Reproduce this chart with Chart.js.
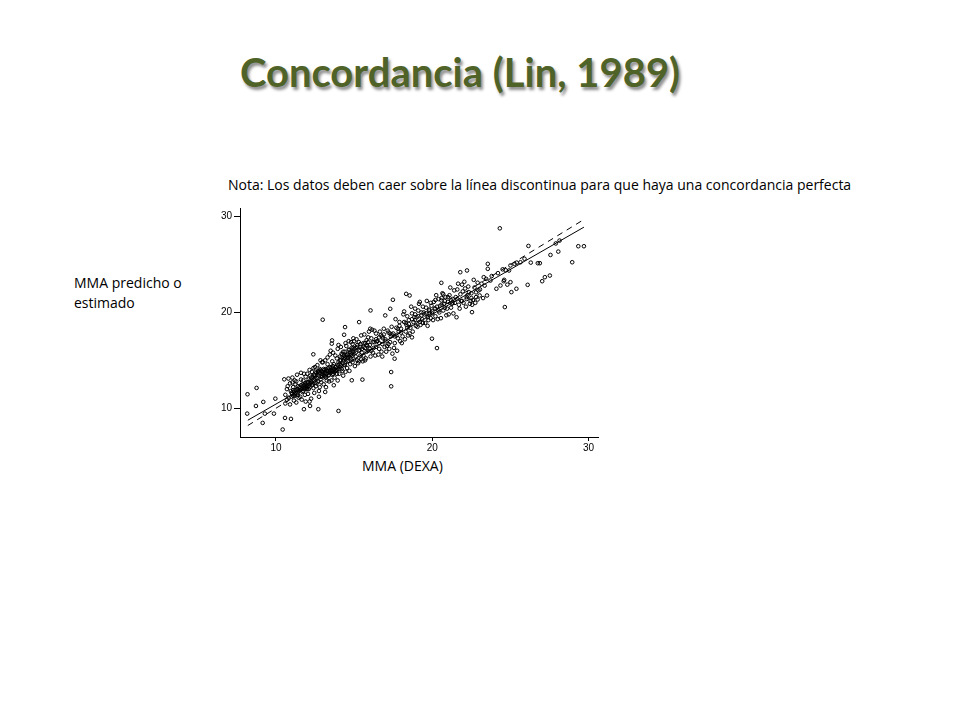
<!DOCTYPE html>
<html>
<head>
<meta charset="utf-8">
<script src="https://cdn.jsdelivr.net/npm/chart.js@4/dist/chart.umd.min.js"></script>
<style>
  body { margin: 0; width: 960px; height: 720px; background: #fff; position: relative; overflow: hidden; }
  .txt { position: absolute; font-family: "Open Sans", Lato, sans-serif; color: #000; white-space: nowrap; }
  #titulo { left: 0; width: 920px; top: 48px; text-align: center; font-family: Lato, sans-serif; font-size: 40px; font-weight: bold; color: #4f6228;
    text-shadow: 2px 3px 3px rgba(0,0,0,0.45); }
  #nota { left: 228px; top: 175px; font-size: 14px; }
  #ylab { left: 74px; top: 273px; font-size: 14px; line-height: 20px; }
  #xlab { left: 362px; top: 456px; font-size: 14px; }
  #wrap { position: absolute; left: 200px; top: 200px; width: 420px; height: 270px; }
</style>
</head>
<body>
<div class="txt" id="titulo">Concordancia (Lin, 1989)</div>
<div class="txt" id="nota">Nota: Los datos deben caer sobre la línea discontinua para que haya una concordancia perfecta</div>
<div class="txt" id="ylab">MMA predicho o<br>estimado</div>
<div class="txt" id="xlab">MMA (DEXA)</div>
<div id="wrap"><canvas id="concordChart"></canvas></div>
<script>
// MMA (DEXA) vs MMA predicho
const puntos = [
  [8.18,11.46],[8.76,12.12],[8.16,9.44],[8.72,10.24],[9.19,10.66],[9.15,8.47],[9.29,9.44],[9.87,9.44],
  [9.96,11.0],[10.43,7.78],[10.58,8.99],[10.96,8.89],[10.53,13.02],[11.79,9.9],[12.18,10.24],[12.71,9.9],
  [14.0,9.72],[12.99,19.24],[12.39,15.63],[14.42,18.47],[14.36,17.67],[13.59,17.08],[13.57,16.74],[14.85,12.92],
  [15.53,12.99],[15.32,18.99],[16.05,20.21],[16.03,18.3],[17.48,21.32],[17.31,20.38],[17.37,13.78],[17.37,12.29],
  [17.59,15.17],[16.99,19.69],[18.33,21.94],[18.55,21.77],[19.98,17.26],[20.3,16.28],[20.58,23.09],[20.58,21.25],
  [21.79,24.2],[22.22,24.38],[22.54,20.03],[23.55,25.07],[23.55,24.55],[24.32,28.78],[24.64,20.56],[24.57,23.26],
  [25.0,23.16],[25.38,22.47],[25.06,22.12],[26.1,22.88],[26.15,26.94],[26.75,25.14],[26.88,25.14],[27.03,23.26],
  [27.2,23.68],[27.52,23.85],[27.56,26.0],[28.06,26.35],[28.14,27.5],[28.95,25.24],[29.34,26.91],[29.7,26.91],
  [25.64,25.24],[25.26,25.07],[24.91,24.38],[24.36,22.81],[24.1,22.47],[23.5,21.77],[23.03,21.77],[22.9,21.35],
  [23.29,23.68],[23.72,23.33],
  [10.6,11.4],[10.7,12.0],[10.8,11.1],[10.9,12.6],[10.6,10.5],[10.8,13.1],[10.95,11.8],[10.7,10.9],[10.9,10.4],[10.75,12.3],
  [11.0,11.6],[11.1,12.2],[11.2,11.3],[11.3,12.8],[11.05,13.2],[11.4,11.9],[11.15,10.8],[11.25,12.5],[11.35,13.5],[11.45,11.1],
  [11.1,11.9],[11.3,10.6],[11.2,12.9],[11.4,12.3],[11.05,12.7],
  [11.55,12.1],[11.6,13.0],[11.7,11.7],[11.8,12.4],[11.9,13.3],[11.65,10.9],[11.75,12.9],[11.85,11.4],[11.95,12.0],[11.6,13.7],
  [11.7,12.5],[11.9,10.7],[11.55,11.2],[11.8,13.6],[11.95,12.7],
  [12.0,12.3],[12.1,13.0],[12.2,12.6],[12.3,13.8],[12.4,12.1],[12.05,11.5],[12.15,14.0],[12.25,11.0],[12.35,13.3],[12.45,12.9],
  [12.1,12.0],[12.2,13.4],[12.3,12.4],[12.4,14.2],[12.0,13.6],[12.45,11.6],[12.25,12.8],[12.15,10.7],
  [12.5,13.1],[12.6,13.7],[12.7,12.8],[12.8,14.1],[12.9,13.4],[12.55,12.3],[12.65,14.5],[12.75,11.8],[12.85,13.0],[12.95,14.8],
  [12.6,12.6],[12.7,13.9],[12.8,12.2],[12.9,12.7],[12.5,14.3],[12.75,11.2],[12.95,13.6],[12.85,15.0],
  [13.0,13.5],[13.1,14.0],[13.2,13.2],[13.3,14.6],[13.4,13.8],[13.05,12.5],[13.15,15.0],[13.25,12.9],[13.35,13.4],[13.45,14.3],
  [13.1,13.7],[13.2,12.2],[13.3,15.3],[13.4,12.8],[13.0,14.8],[13.25,13.9],[13.45,15.6],[13.15,11.7],
  [13.5,14.0],[13.6,13.5],[13.7,14.6],[13.8,13.9],[13.9,15.2],[13.55,12.9],[13.65,15.8],[13.75,13.2],[13.85,14.3],[13.95,16.2],
  [13.6,14.9],[13.7,12.4],[13.8,15.5],[13.9,13.6],[13.5,16.0],[13.75,14.1],[13.95,12.9],[13.65,14.4],
  [14.0,14.8],[14.1,15.4],[14.2,14.1],[14.3,15.9],[14.4,14.5],[14.05,13.6],[14.15,16.4],[14.25,13.9],[14.35,15.1],[14.45,16.8],
  [14.1,14.3],[14.2,15.7],[14.3,13.4],[14.4,15.3],[14.0,16.6],[14.25,14.7],[14.45,13.8],[14.15,15.0],
  [14.5,15.5],[14.6,14.9],[14.7,16.1],[14.8,15.2],[14.9,16.7],[14.55,14.2],[14.65,17.0],[14.75,14.6],[14.85,15.8],[14.95,16.3],
  [14.6,15.6],[14.7,13.9],[14.8,16.9],[14.9,14.8],[14.5,16.5],[14.75,15.3],[14.95,17.3],
  [15.0,15.7],[15.1,16.3],[15.2,15.0],[15.3,16.9],[15.4,15.5],[15.05,14.4],[15.15,17.2],[15.25,14.7],[15.35,16.1],[15.45,17.6],
  [15.1,15.4],[15.2,16.6],[15.3,14.9],[15.4,16.4],[15.0,17.0],[15.45,15.1],
  [15.5,16.2],[15.6,15.5],[15.7,16.8],[15.8,15.9],[15.9,17.4],[15.55,14.9],[15.65,17.7],[15.75,15.2],[15.85,16.5],[15.95,18.0],
  [15.6,16.4],[15.7,15.0],[15.8,17.1],[15.9,16.0],
  [16.0,16.6],[16.1,17.3],[16.2,15.8],[16.3,16.9],[16.4,17.8],[16.05,15.4],[16.15,18.2],[16.25,16.3],[16.35,15.5],[16.45,17.0],
  [16.1,16.0],[16.3,18.1],[16.4,16.4],
  [16.5,17.0],[16.6,16.2],[16.7,17.6],[16.8,16.7],[16.9,18.3],[16.55,15.6],[16.65,18.0],[16.75,15.9],[16.85,17.3],[16.95,16.4],
  [16.6,17.4],[16.8,15.4],[16.9,17.7],
  [17.0,17.2],[17.1,16.5],[17.2,17.9],[17.3,16.9],[17.4,18.5],[17.05,15.9],[17.15,18.1],[17.25,16.2],[17.35,17.5],[17.45,15.7],
  [17.2,16.7],[17.4,17.7],
  [17.5,17.8],[17.6,16.8],[17.7,18.4],[17.8,17.3],[17.9,19.0],[17.55,16.3],[17.65,19.3],[17.75,16.0],[17.85,18.0],[17.95,17.0],
  [17.7,17.6],[17.9,18.6],
  [18.0,18.3],[18.1,17.5],[18.2,19.0],[18.3,18.0],[18.4,19.6],[18.05,16.8],[18.15,19.8],[18.25,17.2],[18.35,18.7],[18.45,17.6],
  [18.2,20.1],[18.4,18.4],
  [18.5,19.2],[18.6,18.4],[18.7,19.9],[18.8,19.0],[18.9,20.4],[18.55,17.8],[18.65,20.6],[18.75,18.0],[18.85,19.5],[18.95,18.6],
  [18.7,17.4],[18.9,19.8],
  [19.0,19.5],[19.1,20.2],[19.2,19.0],[19.3,19.7],[19.4,20.6],[19.05,18.5],[19.15,20.9],[19.25,18.7],[19.35,19.3],[19.45,20.0],
  [19.2,21.1],[19.4,18.9],
  [19.5,19.8],[19.6,20.5],[19.7,19.5],[19.8,20.2],[19.9,21.0],[19.55,18.9],[19.65,21.2],[19.75,19.2],[19.85,19.9],[19.95,20.7],
  [19.7,18.6],[19.9,19.4],
  [20.0,20.1],[20.1,21.1],[20.2,19.6],[20.3,20.6],[20.4,21.4],[20.05,19.2],[20.15,20.4],[20.25,21.8],[20.35,19.3],[20.45,20.0],
  [20.2,21.3],
  [20.5,20.7],[20.6,21.5],[20.7,20.2],[20.8,21.2],[20.9,19.7],[20.55,19.4],[20.65,22.0],[20.75,20.9],[20.85,21.6],[20.95,20.4],
  [20.7,21.9],
  [21.0,21.1],[21.1,21.8],[21.2,20.5],[21.3,21.4],[21.4,22.3],[21.05,19.8],[21.15,22.6],[21.25,20.9],[21.35,19.9],[21.45,21.0],
  [21.2,21.3],
  [21.5,21.6],[21.6,22.4],[21.7,20.8],[21.8,21.9],[21.9,22.9],[21.55,19.5],[21.65,23.0],[21.75,20.4],[21.85,21.2],[21.95,22.2],
  [22.0,21.0],[22.1,22.5],[22.2,21.4],[22.3,22.7],[22.4,20.9],[22.05,23.2],[22.15,20.6],[22.25,21.8],[22.35,22.1],[22.45,21.2],
  [22.5,22.0],[22.6,21.3],[22.7,22.6],[22.8,21.6],[22.9,23.1],[22.55,20.8],[22.65,23.4],[22.75,21.0],[22.95,22.3],
  [23.05,22.4],[23.15,23.0],[23.25,21.5],[23.35,22.8],[23.45,23.5],
  [23.8,23.8],[24.2,24.1],[24.5,24.5],[24.7,24.4],[25.0,24.9],[25.4,25.2],[25.9,25.6],[26.3,25.2],[27.9,27.2],[24.8,22.9],[24.6,23.4],
  // dense core of the cloud
  [11.0,11.2],[11.05,11.5],[11.1,11.3],[11.15,11.7],[11.2,11.5],[11.25,11.9],[11.3,11.6],[11.35,12.0],[11.4,11.4],[11.45,11.8],
  [11.5,12.2],[11.55,11.9],[11.6,12.4],[11.65,12.0],[11.7,12.3],[11.75,11.8],[11.8,12.1],[11.85,12.6],[11.9,12.2],[11.95,12.5],
  [12.0,12.0],[12.05,12.7],[12.1,12.4],[12.15,12.2],[12.2,12.9],[12.25,13.2],[12.3,12.7],[12.35,12.5],[12.4,13.0],[12.45,13.5],
  [12.5,13.4],[12.55,13.8],[12.6,13.2],[12.65,13.5],[12.7,13.8],[12.75,13.4],[12.8,13.7],[12.85,14.0],[12.9,13.9],[12.95,13.3],
  [13.0,13.8],[13.05,14.1],[13.1,13.4],[13.15,13.7],[13.2,14.1],[13.25,13.6],[13.3,13.9],[13.35,14.2],[13.4,13.5],[13.45,13.9],
  [13.5,13.7],[13.55,14.2],[13.6,13.9],[13.65,13.6],[13.7,14.0],[13.75,13.8],[13.8,14.3],[13.85,13.9],[13.9,14.0],[13.95,14.5],
  [14.0,14.1],[14.05,14.6],[14.1,15.0],[14.15,14.5],[14.2,15.3],[14.25,15.6],[14.3,14.9],[14.35,15.5],[14.4,15.9],[14.45,15.2],
  [14.5,15.0],[14.55,15.6],[14.6,15.3],[14.65,16.1],[14.7,15.4],[14.75,15.9],[14.8,15.6],[14.85,16.3],[14.9,15.5],[14.95,15.9],
  [15.0,16.2],[15.1,15.8],[15.2,16.4],[15.3,16.0],[15.4,16.7],[15.5,15.8],[15.6,16.8],[15.7,16.3],[15.8,16.6],[15.9,16.9],
  [16.0,16.2],[16.2,16.9],[16.4,17.2],[16.6,16.8],[16.8,17.5],[17.0,17.0],[17.3,17.8],[17.6,17.5],[17.8,18.3],[18.0,17.9],
  [18.3,18.9],[18.5,18.8],[18.7,19.3],[18.9,19.2],[19.1,19.6],[19.3,20.0],[19.6,19.9],[19.8,20.3],[20.0,19.9],[20.2,20.4],
  [20.4,20.2],[20.6,20.8],[20.8,20.5],[21.0,21.6],[21.3,21.0],[21.6,21.4],[21.9,21.2],[22.2,21.6],[22.5,21.5],[22.8,22.1]
];

// end points of the fitted line (solid) and the line of perfect agreement (dashed)
const lineaX = [8.2, 29.7];
const ajusteY = [8.75, 28.9];
const identidadY = [8.2, 29.7];

const ejeXTicks = [10, 20, 30];
const ejeYTicks = [10, 20, 30];

const fuenteTicks = { family: 'Liberation Sans, Arial, sans-serif', size: 10 };

window.addEventListener('load', function () {
  var ctx = document.getElementById('concordChart').getContext('2d');
  window.concordChart = new Chart(ctx, {
    type: 'scatter',
    data: {
      datasets: [
        {
          label: 'MMA',
          data: puntos.map(p => ({ x: p[0], y: p[1] })),
          pointRadius: 1.8,
          pointBorderWidth: 1,
          pointBorderColor: '#000',
          pointBackgroundColor: 'rgba(255,255,255,0)',
          showLine: false
        },
        {
          label: 'ajuste',
          type: 'line',
          data: lineaX.map((x, i) => ({ x: x, y: ajusteY[i] })),
          borderColor: '#000',
          borderWidth: 1,
          pointRadius: 0
        },
        {
          label: 'identidad',
          type: 'line',
          data: lineaX.map((x, i) => ({ x: x, y: identidadY[i] })),
          borderColor: '#000',
          borderWidth: 1,
          borderDash: [6, 5],
          pointRadius: 0
        }
      ]
    },
    options: {
      responsive: true,
      maintainAspectRatio: false,
      animation: false,
      layout: { padding: { left: 0, right: 22, top: 7, bottom: 3 } },
      plugins: { legend: { display: false }, tooltip: { enabled: false } },
      scales: {
        x: {
          type: 'linear',
          min: 7.7,
          max: 30.6,
          afterBuildTicks: s => { s.ticks = ejeXTicks.map(v => ({ value: v })); },
          afterFit: s => { s.height = 30; },
          grid: { drawOnChartArea: false, drawTicks: true, tickLength: 4, color: '#000' },
          border: { color: '#000', width: 1 },
          ticks: { color: '#000', font: fuenteTicks, padding: 1, maxRotation: 0 }
        },
        y: {
          type: 'linear',
          min: 7.0,
          max: 30.9,
          afterBuildTicks: s => { s.ticks = ejeYTicks.map(v => ({ value: v })); },
          afterFit: s => { s.width = 40; },
          grid: { drawOnChartArea: false, drawTicks: true, tickLength: 6, color: '#000' },
          border: { color: '#000', width: 1 },
          ticks: { color: '#000', font: fuenteTicks, padding: 2 }
        }
      }
    }
  });
  return window.concordChart;
});
</script>
</body>
</html>
